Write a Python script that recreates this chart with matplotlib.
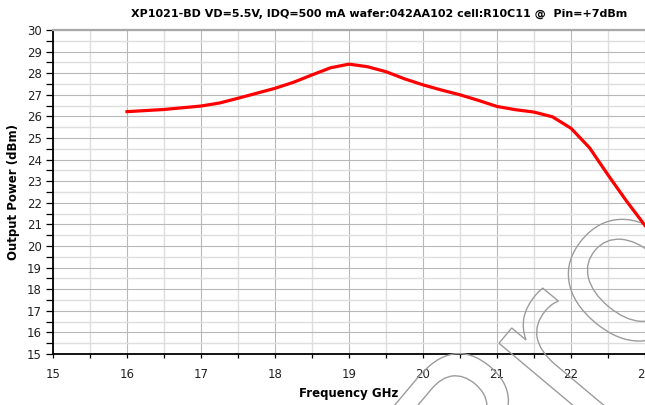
import matplotlib
matplotlib.use('Agg')
import matplotlib.pyplot as plt
from matplotlib.ticker import MultipleLocator
from matplotlib.textpath import TextPath
from matplotlib.patches import PathPatch
from matplotlib.font_manager import FontProperties
from matplotlib.transforms import Affine2D, IdentityTransform

# values (0.25 GHz steps)
freq = [16.0, 16.25, 16.5, 16.75, 17.0, 17.25, 17.5, 17.75, 18.0, 18.25,
        18.5, 18.75, 19.0, 19.25, 19.5, 19.75, 20.0, 20.25, 20.5, 20.75,
        21.0, 21.25, 21.5, 21.75, 22.0, 22.25, 22.5, 22.75, 23.0]
pout = [26.22, 26.27, 26.32, 26.40, 26.48, 26.62, 26.84, 27.07, 27.30, 27.58,
        27.92, 28.25, 28.42, 28.30, 28.07, 27.74, 27.46, 27.22, 27.00, 26.74,
        26.46, 26.31, 26.20, 25.98, 25.45, 24.55, 23.29, 22.08, 20.95]

title = "XP1021-BD VD=5.5V, IDQ=500 mA wafer:042AA102 cell:R10C11 @  Pin=+7dBm"
xlabel = "Frequency GHz"
ylabel = "Output Power (dBm)"
watermark = "Pro"

W, H = 645, 405
fig = plt.figure(figsize=(W / 100, H / 100), dpi=100)
ax = fig.add_axes([53 / W, 51 / H, 592 / W, 324 / H])

ax.plot(freq, pout, color='#ff0000', lw=2.3, zorder=5)

ax.set_xlim(15, 23)
ax.set_ylim(15, 30)
ax.xaxis.set_major_locator(MultipleLocator(1))
ax.xaxis.set_minor_locator(MultipleLocator(0.5))
ax.yaxis.set_major_locator(MultipleLocator(1))
ax.yaxis.set_minor_locator(MultipleLocator(0.5))
ax.grid(which='major', color='#b8b8b8', lw=0.8)
ax.grid(which='minor', color='#dedede', lw=1.0)
ax.set_axisbelow(True)

for s in ['left', 'bottom']:
    ax.spines[s].set_color('black')
    ax.spines[s].set_linewidth(1.3)
ax.spines['top'].set_color('#a8a8a8')
ax.spines['top'].set_linewidth(1.6)
ax.spines['right'].set_visible(False)

ax.tick_params(axis='both', which='both', direction='out', width=0.9, colors='black', labelsize=8.5)
ax.tick_params(axis='y', which='major', length=5, pad=3)
ax.tick_params(axis='y', which='minor', length=5)
ax.tick_params(axis='x', which='major', length=3, pad=7)
ax.tick_params(axis='x', which='minor', length=3)
ax.tick_params(axis='both', labelcolor='#222222')

fig.text(379 / W, 1 - 14 / H, title, ha='center', va='center', fontsize=8, fontweight='bold')
fig.text(349 / W, 1 - 393 / H, xlabel, ha='center', va='center', fontsize=8.5, fontweight='bold')
fig.text(14 / W, 1 - 192 / H, ylabel, ha='center', va='center', rotation=90, fontsize=8.5, fontweight='bold')

# outlined, rotated watermark
S = 220
tp = TextPath((0, 0), watermark, size=S, prop=FontProperties(family='DejaVu Sans'))
tr = Affine2D().translate(-0.739 * S, 0).rotate_deg(50).translate(600, -5)
wm = PathPatch(tr.transform_path(tp), facecolor='none', edgecolor='#9c9c9c', lw=1.0,
               transform=IdentityTransform(), clip_on=False, zorder=3)
ax.add_artist(wm)

fig.savefig('out.png', dpi=100)
